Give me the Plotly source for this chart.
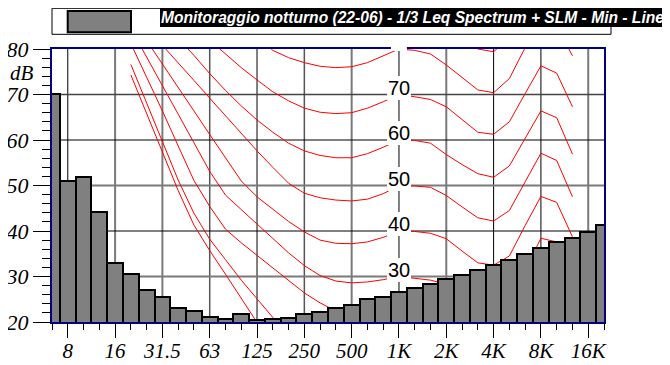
import plotly.graph_objects as go

# ---------------- data ----------------
band_labels = ["6.3", "8", "10", "12.5", "16", "20", "25", "31.5", "40", "50", "63", "80",
               "100", "125", "160", "200", "250", "315", "400", "500", "630", "800",
               "1K", "1.25K", "1.6K", "2K", "2.5K", "3.15K", "4K", "5K", "6.3K", "8K",
               "10K", "12.5K", "16K", "20K"]

leq_min = [70.1, 51.1, 51.8, 44.2, 32.9, 30.5, 27.0, 25.4, 23.0, 22.5,
           21.1, 20.6, 21.8, 20.4, 20.7, 20.8, 21.7, 22.1, 23.0, 23.7,
           25.0, 25.4, 26.5, 27.5, 28.4, 29.4, 30.4, 31.5, 32.5, 33.6,
           34.9, 36.2, 37.5, 38.5, 39.8, 41.4]

tick_labels = ["8", "16", "31.5", "63", "125", "250", "500", "1K", "2K", "4K", "8K", "16K"]
y_ticks = [20, 30, 40, 50, 60, 70, 80]

# equal-loudness contours (dB), bands 20 Hz ... 12.5 kHz
contour_bands = band_labels[5:34]
phon_0 = [74.3, 65.7, 57.1, 48.9, 41.3, 35.7, 30.5, 25.2, 19.9, 15.5, 12.0, 9.0, 6.5, 4.5, 3.0,
          2.0, 1.0, 0.0, -0.5, -1.5, -3.0, -5.0, -7.0, -7.5, -5.5, 0.0, 8.0, 8.5, 2.0]
phon_10 = [76.6, 68.2, 59.7, 51.2, 43.9, 38.2, 33.7, 29.2, 25.1, 21.0, 17.5, 15.0, 13.2, 11.8, 10.3,
           9.8, 9.7, 10.0, 9.5, 8.7, 7.0, 5.0, 3.2, 2.7, 4.6, 11.5, 19.5, 19.0, 12.5]
phon_20 = [81.2, 73.9, 66.4, 58.7, 51.1, 45.4, 40.4, 37.4, 34.6, 31.8, 29.0, 26.4, 24.2, 22.4, 21.0,
           20.2, 19.9, 20.0, 19.5, 19.1, 18.2, 16.0, 13.7, 13.2, 14.8, 21.8, 28.8, 28.2, 23.5]
phon_30 = [84.5, 78.3, 72.0, 65.7, 59.4, 53.1, 47.9, 44.7, 41.6, 38.4, 35.2, 32.4, 30.2, 29.0, 28.6,
           28.8, 29.3, 30.0, 29.6, 29.2, 28.3, 25.8, 23.3, 22.7, 24.4, 31.4, 38.4, 37.6, 31.8]
phon_40 = [87.0, 81.9, 76.7, 71.5, 66.4, 61.2, 56.0, 51.0, 47.5, 44.8, 42.1, 39.8, 38.0, 37.3, 37.2,
           37.6, 38.6, 40.0, 39.9, 39.5, 38.3, 35.6, 33.0, 32.5, 34.5, 41.2, 47.6, 46.3, 38.7]
phon_50 = [88.5, 84.7, 80.8, 76.9, 73.1, 69.2, 65.3, 61.4, 57.6, 54.0, 50.5, 48.3, 47.3, 46.8, 46.6,
           47.0, 48.2, 50.0, 49.9, 49.6, 47.8, 45.3, 42.9, 42.2, 44.5, 50.8, 57.1, 55.5, 47.5]
phon_60 = [94.0, 90.0, 86.0, 82.3, 78.6, 74.6, 70.9, 67.5, 64.4, 61.7, 59.3, 57.6, 56.6, 56.1, 56.1,
           57.0, 58.4, 60.0, 59.9, 59.3, 56.8, 54.6, 52.6, 51.8, 54.3, 60.3, 66.4, 64.9, 56.9]
phon_70 = [97.0, 94.0, 91.0, 88.0, 85.0, 82.0, 79.0, 75.9, 73.2, 70.6, 68.6, 67.0, 66.1, 65.8, 66.0,
           67.0, 68.4, 70.0, 69.5, 68.9, 67.3, 64.5, 61.7, 61.25, 64.0, 70.2, 76.3, 74.7, 67.3]
phon_80 = [107.0, 104.0, 101.0, 98.0, 95.0, 92.0, 89.0, 86.0, 83.0, 79.7, 78.1, 77.0, 76.2, 75.9, 76.1,
           77.0, 78.5, 80.0, 79.7, 78.9, 76.5, 73.8, 71.0, 70.4, 73.5, 80.3, 86.5, 85.0, 78.5]
phon_90 = [117.0, 114.0, 111.0, 108.0, 105.0, 102.0, 99.0, 96.0, 93.0, 90.5, 88.5, 87.3, 86.5, 86.1, 86.2,
           87.0, 88.4, 90.0, 89.6, 88.8, 86.5, 83.3, 80.0, 79.4, 82.5, 89.8, 96.5, 95.0, 88.5]

contours = [phon_0, phon_10, phon_20, phon_30, phon_40, phon_50, phon_60, phon_70, phon_80, phon_90]
contour_labels = [70, 60, 50, 40, 30]

title_text = "Monitoraggio notturno (22-06) - 1/3 Leq Spectrum + SLM - Min - Lineare"

# ---------------- figure ----------------
band_idx = list(range(len(band_labels)))
cx = [band_labels.index(b) for b in contour_bands]
ref_idx = band_labels.index("1K")

fig = go.Figure()

for c in contours:
    fig.add_trace(go.Scatter(x=cx, y=c, mode="lines",
                             line=dict(color="#ff0000", width=1),
                             hoverinfo="skip", showlegend=False,
                             xaxis="x", yaxis="y"))

fig.add_trace(go.Bar(x=band_idx, y=leq_min, width=1.0,
                     marker=dict(color="#808080", line=dict(color="#000000", width=2)),
                     showlegend=False, xaxis="x2", yaxis="y2"))

serif = "Liberation Serif, Times New Roman, serif"
sans = "Liberation Sans Narrow, Arial Narrow, Liberation Sans, Arial, sans-serif"

XR = [0, len(band_labels) - 1]
YR = [20, 80]

# the page body adds an 8 px offset, so the figure is 8 px smaller with 8 px less margin
fig.update_layout(
    width=662, height=357,
    margin=dict(l=44, r=66, t=41, b=43, autoexpand=False),
    paper_bgcolor="white", plot_bgcolor="white",
    bargap=0,
    xaxis=dict(range=XR, tickmode="array", automargin=False,
               tickvals=[band_labels.index(t) for t in tick_labels],
               ticktext=["<i>" + t + "</i>" for t in tick_labels],
               showgrid=False, zeroline=False,
               showline=True, linecolor="#000080", linewidth=2, mirror=True,
               ticks="outside", ticklen=14, tickcolor="black", tickwidth=1,
               ticklabelstandoff=-5,
               minor=dict(dtick=1, tick0=0, ticks="outside", ticklen=6,
                          tickcolor="black", tickwidth=1, showgrid=False),
               tickfont=dict(family=serif, size=21, color="black")),
    yaxis=dict(range=YR, tickmode="array", automargin=False, tickvals=y_ticks,
               ticktext=["<i>" + str(v) + "</i>" for v in y_ticks],
               showgrid=False, zeroline=False,
               showline=True, linecolor="#000080", linewidth=2, mirror=True,
               ticks="outside", ticklen=17, tickcolor="black", tickwidth=1,
               minor=dict(dtick=2, tick0=20, ticks="outside", ticklen=8,
                          tickcolor="black", tickwidth=1, showgrid=False),
               tickfont=dict(family=serif, size=22, color="black")),
    xaxis2=dict(range=XR, overlaying="x", anchor="y2", visible=False, automargin=False),
    yaxis2=dict(range=YR, overlaying="y", anchor="x2", visible=False, automargin=False),
)

# grid lines (mix of black and grey as in the original rendering)
vgrid = {"8": ("#000000", 1), "16": ("#7a7a7a", 2), "31.5": ("#7a7a7a", 2), "63": ("#555555", 1.5),
         "125": ("#000000", 1), "250": ("#555555", 1.5), "500": ("#7a7a7a", 2), "1K": ("#000000", 1),
         "2K": ("#7a7a7a", 2), "4K": ("#000000", 1), "8K": ("#000000", 1), "16K": ("#7a7a7a", 2)}
for lab, (col, w) in vgrid.items():
    xi = band_labels.index(lab)
    fig.add_shape(type="line", xref="x", yref="y", x0=xi, x1=xi, y0=YR[0], y1=YR[1],
                  line=dict(color=col, width=w), layer="below")
hgrid = {30: ("#7a7a7a", 2), 40: ("#000000", 1), 50: ("#7a7a7a", 2), 60: ("#000000", 1), 70: ("#444444", 1.5)}
for yv, (col, w) in hgrid.items():
    fig.add_shape(type="line", xref="x", yref="y", x0=XR[0], x1=XR[1], y0=yv, y1=yv,
                  line=dict(color=col, width=w), layer="below")

# contour labels at 1 kHz
for lv in contour_labels:
    fig.add_annotation(x=ref_idx, y=lv, xref="x", yref="y", text=str(lv), showarrow=False,
                       yanchor="bottom", xanchor="center", yshift=-5,
                       bgcolor="white", borderpad=1, borderwidth=0,
                       font=dict(family=sans, size=20, color="black"))
# the clipped "80" label box on the top border
fig.add_shape(type="rect", xref="paper", yref="paper", x0=0.614, x1=0.643,
              y0=1 - 2 / 273, y1=1 + 4 / 273, fillcolor="white", line=dict(width=0), layer="above")

# y unit
fig.add_annotation(xref="paper", yref="paper", x=-16 / 552, y=(322 - 73) / 273, text="<i>dB</i>",
                   showarrow=False, xanchor="right", yanchor="middle",
                   font=dict(family=serif, size=21, color="black"))

# legend box
fig.add_shape(type="rect", xref="paper", yref="paper", x0=0, x1=559 / 552,
              y0=(322 - 34.3) / 273, y1=(322 - 8.3) / 273,
              fillcolor="white", line=dict(color="black", width=1), layer="above")
fig.add_shape(type="rect", xref="paper", yref="paper", x0=15.7 / 552, x1=79 / 552,
              y0=(322 - 32.3) / 273, y1=(322 - 11) / 273,
              fillcolor="#808080", line=dict(color="black", width=2), layer="above")
fig.add_annotation(xref="paper", yref="paper", x=108 / 552, y=(322 - 8.3) / 273,
                   xanchor="left", yanchor="top", text="<b><i>" + title_text + "</i></b>",
                   showarrow=False, bgcolor="black", borderpad=1, borderwidth=0,
                   font=dict(family=sans, size=15.6, color="white"))

fig.write_html("out.html")
